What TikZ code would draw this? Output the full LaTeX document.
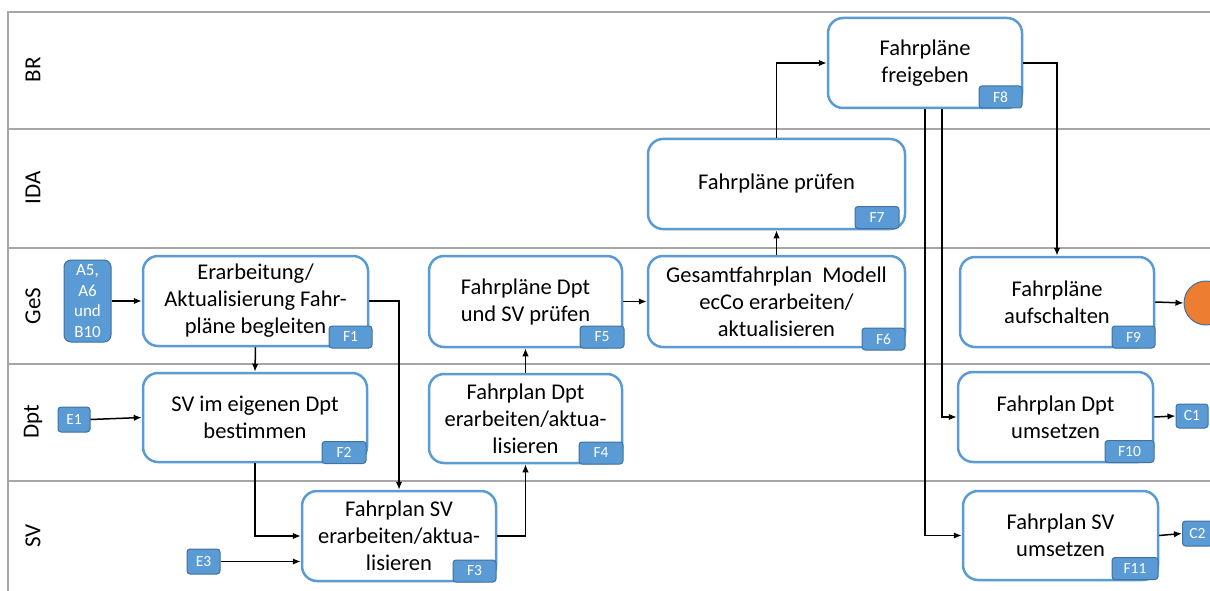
\documentclass[tikz,border=0pt]{standalone}
\usepackage{fontspec}
\setmainfont{Carlito}
\usetikzlibrary{arrows.meta}
\definecolor{boxblue}{HTML}{5B9BD5}
\definecolor{tagedge}{HTML}{41719C}
\definecolor{lanegray}{HTML}{A6A6A6}
\definecolor{orng}{HTML}{ED7D31}
\begin{document}
\begin{tikzpicture}[x=1pt,y=-1pt,
 proc/.style={draw=boxblue, line width=2.5pt, rounded corners=15pt, fill=white, align=center, font=\fontsize{22.5}{27}\selectfont, inner sep=0pt},
 tag/.style={draw=tagedge, line width=1pt, fill=boxblue, rounded corners=3pt, text=white, font=\fontsize{15.5}{17}\selectfont, inner sep=0pt, minimum height=22pt},
 flow/.style={draw=black, line width=1.5pt, -{Latex[length=8pt,width=6.5pt]}},
 lane/.style={draw=lanegray, line width=2pt},
 lanelabel/.style={rotate=90, font=\fontsize{23}{26}\selectfont}
]
\useasboundingbox (0,0) rectangle (1210,591);
\clip (0,0) rectangle (1210,591);
% lanes
\draw[lane] (8,591) -- (8,12) -- (1212,12);
\foreach \yy in {129,248,364,481} \draw[lane] (8,\yy) -- (1212,\yy);
\node[lanelabel] (lBR) at (33,70) {BR};
\node[lanelabel] (lIDA) at (33,188) {IDA};
\node[lanelabel] (lGeS) at (33,306) {GeS};
\node[lanelabel] (lDpt) at (33,422) {Dpt};
\node[lanelabel] (lSV) at (33,536) {SV};
% process boxes
\node[proc, minimum width=225pt, minimum height=90pt] (F1) at (255.5,301) {Erarbeitung/\\Aktualisierung Fahr-\\pläne begleiten};
\node[proc, minimum width=224pt, minimum height=89pt] (F2) at (255,417.5) {SV im eigenen Dpt\\bestimmen};
\node[proc, minimum width=194pt, minimum height=90pt] (F3) at (399,536) {Fahrplan SV\\erarbeiten/aktua-\\lisieren};
\node[proc, minimum width=193pt, minimum height=89pt] (F4) at (525.5,418.5) {Fahrplan Dpt\\erarbeiten/aktua-\\lisieren};
\node[proc, minimum width=193pt, minimum height=91pt] (F5) at (525.5,301.5) {Fahrpläne Dpt\\und SV prüfen};
\node[proc, minimum width=257pt, minimum height=91pt] (F6) at (776.5,301.5) {Gesamtfahrplan\ \ Modell\\ecCo erarbeiten/\\aktualisieren};
\node[proc, minimum width=257pt, minimum height=90pt] (F7) at (776.5,184) {Fahrpläne prüfen};
\node[proc, minimum width=194pt, minimum height=90pt] (F8) at (925,63) {Fahrpläne\\freigeben};
\node[proc, minimum width=194pt, minimum height=90pt] (F9) at (1057,302) {Fahrpläne\\aufschalten};
\node[proc, minimum width=195pt, minimum height=90pt] (F10) at (1055.5,417) {Fahrplan Dpt\\umsetzen};
\node[proc, minimum width=195pt, minimum height=89pt] (F11) at (1060.5,535.5) {Fahrplan SV\\umsetzen};
% tags
\node[tag, minimum width=43pt] (tF1) at (350.5,337) {F1};
\node[tag, minimum width=44pt] (tF2) at (344,452.5) {F2};
\node[tag, minimum width=43pt] (tF3) at (474.5,571) {F3};
\node[tag, minimum width=44pt] (tF4) at (601,453) {F4};
\node[tag, minimum width=44pt] (tF5) at (602,337) {F5};
\node[tag, minimum width=43pt] (tF6) at (883.5,339) {F6};
\node[tag, minimum width=44pt] (tF7) at (877,217.5) {F7};
\node[tag, minimum width=43pt] (tF8) at (1000.5,97) {F8};
\node[tag, minimum width=43pt] (tF9) at (1133.5,337) {F9};
\node[tag, minimum width=49pt] (tF10) at (1129.5,451.5) {F10};
\node[tag, minimum width=46pt] (tF11) at (1135,568.5) {F11};
% inputs / outputs
\node[tag, minimum width=47pt, minimum height=82pt, rounded corners=7pt, align=center, font=\fontsize{17}{20.5}\selectfont] (A5) at (87.5,301) {A5,\\A6\\und\\B10};
\node[tag, minimum width=32pt, minimum height=25pt] (E1) at (74,419.5) {E1};
\node[tag, minimum width=33pt, minimum height=25pt] (E3) at (203.5,561.5) {E3};
\node[tag, minimum width=32pt, minimum height=24pt] (C1) at (1192,416) {C1};
\node[tag, minimum width=30pt, minimum height=25pt, anchor=west] (C2) at (1182,533.5) {C2};
\node[circle, draw=tagedge, line width=1pt, fill=orng, minimum size=44pt, inner sep=0pt] (end) at (1206,303) {};
% connectors
\draw[flow] (A5.east) -- (A5.east -| F1.west);
\draw[flow] (E1.east) -- (F2.west);
\draw[flow] (F1.south) -- (F2.north);
\draw[flow] (F1.east) -| (F3.north);
\draw[flow] (F2.south) |- (F3.west);
\draw[flow] (E3.east) -- (E3.east -| F3.west);
\draw[flow] (F3.east) -| (F4.south);
\draw[flow] (F4.north) -- (F5.south);
\draw[flow] (F5.east) -- (F6.west);
\draw[flow] (F6.north) -- (F7.south);
\draw[flow] (F7.north) |- (F8.west);
\draw[flow] (F8.east) -| (F9.north);
\draw[flow] (F8.south) |- (F11.west);
\draw[flow] ([xshift=17pt]F8.south) |- (F10.west);
\draw[flow] (F9.east) -- (end.west);
\draw[flow] (F10.east) -- (C1.west);
\draw[flow] (F11.east) -- (C2.west);
\end{tikzpicture}
\end{document}
